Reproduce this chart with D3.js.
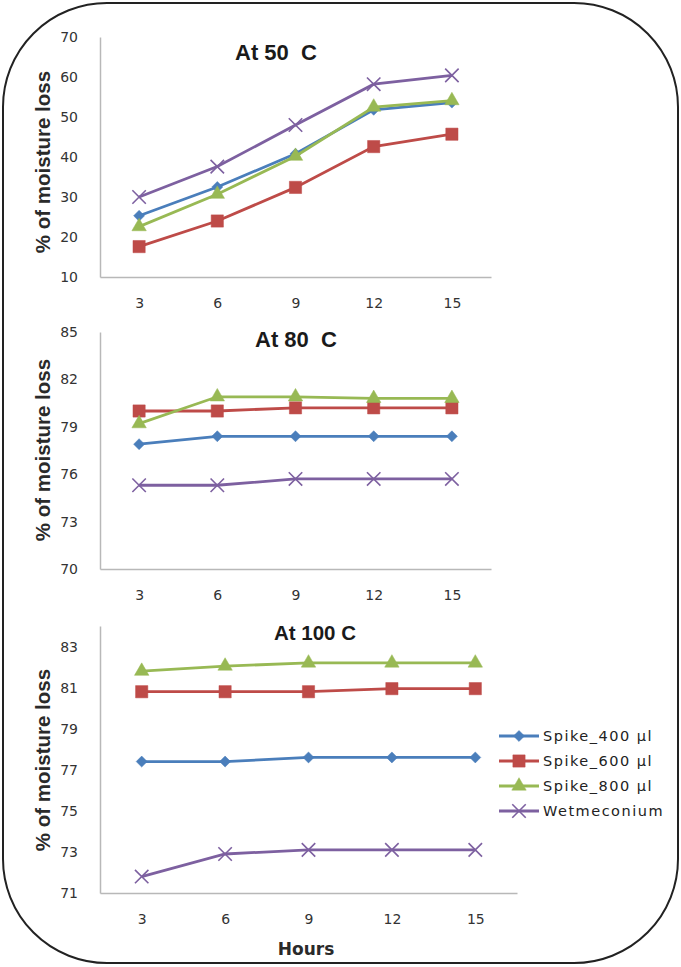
<!DOCTYPE html>
<html>
<head>
<meta charset="utf-8">
<script src="https://cdn.jsdelivr.net/npm/d3@7"></script>
<style>
  body { margin: 0; background: #fff; }
  svg text { white-space: pre; }
</style>
</head>
<body>
<svg id="chart" width="681" height="967"></svg>
<script>
// hours on the x axis
const hours = [3, 6, 9, 12, 15];
const seriesNames = ['Spike_400 µl', 'Spike_600 µl', 'Spike_800 µl', 'Wetmeconium'];
const seriesColors = ['#4a7ebb', '#be4b48', '#98b954', '#7d60a0'];
const seriesMarks = ['diamond', 'square', 'triangle', 'x'];

// At 50 C
const spike400At50 = [25.3, 32.5, 40.8, 51.8, 53.6];
const spike600At50 = [17.6, 24.0, 32.4, 42.6, 45.7];
const spike800At50 = [22.6, 30.7, 40.2, 52.5, 54.1];
const wetAt50 = [30.0, 37.6, 48.0, 58.2, 60.4];
const ticksAt50 = [10, 20, 30, 40, 50, 60, 70];

// At 80 C
const spike400At80 = [77.9, 78.4, 78.4, 78.4, 78.4];
const spike600At80 = [80.0, 80.0, 80.2, 80.2, 80.2];
const spike800At80 = [79.2, 80.9, 80.9, 80.8, 80.8];
const wetAt80 = [75.3, 75.3, 75.7, 75.7, 75.7];
const ticksAt80 = [70, 73, 76, 79, 82, 85];

// At 100 C
const spike400At100 = [77.4, 77.4, 77.6, 77.6, 77.6];
const spike600At100 = [80.8, 80.8, 80.8, 80.95, 80.95];
const spike800At100 = [81.8, 82.05, 82.2, 82.2, 82.2];
const wetAt100 = [71.8, 72.9, 73.1, 73.1, 73.1];
const ticksAt100 = [71, 73, 75, 77, 79, 81, 83];

const svg = d3.select('#chart');

// rounded frame round the whole figure
svg.append('rect')
    .attr('x', 3).attr('y', 3)
    .attr('width', 675).attr('height', 960)
    .attr('rx', 104).attr('ry', 104)
    .attr('fill', 'none')
    .attr('stroke', '#222')
    .attr('stroke-width', 2);

function markPath(kind) {
    if (kind === 'diamond') return d3.symbol(d3.symbolSquare, 60)();
    if (kind === 'square') return d3.symbol(d3.symbolSquare, 150)();
    if (kind === 'triangle') return d3.symbol(d3.symbolTriangle, 90)();
    return d3.symbol(d3.symbolX, 120)();
}

function markTransform(kind, x, y) {
    return 'translate(' + x + ',' + y + ')' + (kind === 'diamond' ? ' rotate(45)' : '');
}

function drawPanel(p) {
    const g = svg.append('g');
    const x = d3.scalePoint().domain(hours).range([100, p.right]).padding(0.5);
    const y = d3.scaleLinear().domain(p.domain).range([p.bottom, p.top]);

    const yAxis = g.append('g')
        .attr('transform', 'translate(100,0)')
        .call(d3.axisLeft(y).tickValues(p.ticks).tickSize(0).tickPadding(22));
    const xAxis = g.append('g')
        .attr('transform', 'translate(0,' + p.bottom + ')')
        .call(d3.axisBottom(x).tickSize(0).tickPadding(21));
    [yAxis, xAxis].forEach(a => {
        a.select('.domain').attr('stroke', '#b8b8b8').attr('stroke-width', 1.5);
        a.selectAll('text')
            .attr('font-family', 'DejaVu Sans')
            .attr('font-size', 14)
            .attr('fill', '#333');
    });

    // Y axis title
    g.append('text')
        .attr('transform', 'translate(50,' + p.labelY + ') rotate(-90)')
        .attr('text-anchor', 'middle')
        .attr('font-family', 'Liberation Sans')
        .attr('font-weight', 'bold')
        .attr('font-size', 20.5)
        .attr('fill', '#2a2a2a')
        .text('% of moisture loss');

    // panel title
    g.append('text')
        .attr('x', p.titleX).attr('y', p.titleY)
        .attr('text-anchor', 'middle')
        .attr('font-family', 'Liberation Sans')
        .attr('font-weight', 'bold')
        .attr('font-size', p.titleSize)
        .attr('fill', '#1a1a1a')
        .text(p.title);

    const line = d3.line()
        .x((d, i) => x(hours[i]))
        .y(d => y(d));

    p.series.forEach((vals, s) => {
        g.append('path')
            .datum(vals)
            .attr('d', line)
            .attr('fill', 'none')
            .attr('stroke', seriesColors[s])
            .attr('stroke-width', 2.8);
        const kind = seriesMarks[s];
        g.selectAll('.m' + s)
            .data(vals)
            .enter()
            .append('path')
            .attr('class', 'm' + s)
            .attr('d', markPath(kind))
            .attr('transform', (d, i) => markTransform(kind, x(hours[i]), y(d)))
            .attr('fill', kind === 'x' ? 'none' : seriesColors[s])
            .attr('stroke', seriesColors[s])
            .attr('stroke-width', kind === 'x' ? 1.6 : 0.5);
    });
    return g;
}

drawPanel({
    title: 'At 50  C', titleX: 276, titleY: 60, titleSize: 22,
    domain: [10, 70], ticks: ticksAt50, top: 37, bottom: 277, right: 491, labelY: 162,
    series: [spike400At50, spike600At50, spike800At50, wetAt50]
});
drawPanel({
    title: 'At 80  C', titleX: 296, titleY: 347, titleSize: 22,
    domain: [70, 85], ticks: ticksAt80, top: 332, bottom: 569, right: 491, labelY: 450,
    series: [spike400At80, spike600At80, spike800At80, wetAt80]
});
drawPanel({
    title: 'At 100 C', titleX: 315, titleY: 640, titleSize: 20.5,
    domain: [71, 84], ticks: ticksAt100, top: 626, bottom: 893, right: 517, labelY: 760,
    series: [spike400At100, spike600At100, spike800At100, wetAt100]
});

// x axis title
svg.append('text')
    .attr('x', 306).attr('y', 955)
    .attr('text-anchor', 'middle')
    .attr('font-family', 'DejaVu Sans')
    .attr('font-weight', 'bold')
    .attr('font-size', 17)
    .attr('fill', '#2a2a2a')
    .text('Hours');

// legend
const legend = svg.append('g').attr('transform', 'translate(499,736)');
seriesNames.forEach((name, i) => {
    const row = legend.append('g').attr('transform', 'translate(0,' + (i * 25) + ')');
    row.append('line')
        .attr('x1', 0).attr('x2', 40)
        .attr('stroke', seriesColors[i])
        .attr('stroke-width', 2.8);
    row.append('path')
        .attr('d', markPath(seriesMarks[i]))
        .attr('transform', markTransform(seriesMarks[i], 20, 0))
        .attr('fill', seriesMarks[i] === 'x' ? 'none' : seriesColors[i])
        .attr('stroke', seriesColors[i])
        .attr('stroke-width', seriesMarks[i] === 'x' ? 1.6 : 0.5);
    row.append('text')
        .attr('x', 44).attr('dy', '0.36em')
        .attr('font-family', 'DejaVu Sans')
        .attr('font-size', 14.5)
        .attr('letter-spacing', 1.5)
        .attr('fill', '#222')
        .text(name);
});
</script>
</body>
</html>
